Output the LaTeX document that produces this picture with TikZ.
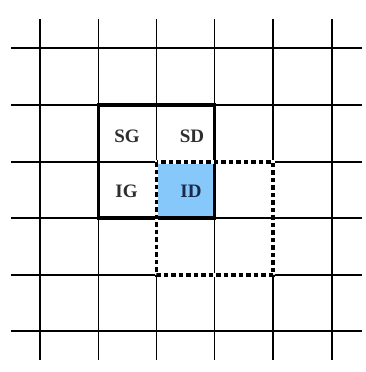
\documentclass[tikz,border=0pt]{standalone}
\usepackage{fontspec}
\setmainfont{Liberation Serif}
\definecolor{cellblue}{HTML}{86C8F9}
\definecolor{labelgray}{HTML}{2E2E2E}
\definecolor{labelnavy}{HTML}{1B2A4A}
\begin{document}
\begin{tikzpicture}[x=1pt,y=-1pt,
  gridline/.style={line width=1.9pt,black},
  thickbox/.style={line width=3.4pt,black,line join=miter},
  dashbox/.style={line width=3.4pt,black,dash pattern=on 4.5pt off 3pt},
  dashunder/.style={line width=3.4pt,white},
  lbl/.style={font=\fontsize{19}{19}\selectfont\bfseries,text=labelgray,inner sep=0pt}]
\useasboundingbox[fill=white] (0,0) rectangle (366,372);
% grid
\foreach \x in {40,98.5,156.5,214.5,273,332}
  \draw[gridline] (\x,19) -- (\x,360);
\foreach \y in {48,105,162,218,275,331}
  \draw[gridline] (11,\y) -- (362,\y);
% blue cell
\fill[cellblue] (156.5,162) rectangle (214.5,218);
\draw[gridline] (156.5,162) rectangle (214.5,218);
% thick box
\draw[thickbox] (98.5,105) rectangle (214.5,218);
% dashed box
\draw[dashunder] (156.5,162) rectangle (273,275);
\draw[dashbox] (156.5,162) rectangle (273,275);
% labels
\node[lbl] (sg) at (127,136) {SG};
\node[lbl] (sd) at (192,136) {SD};
\node[lbl] (ig) at (126.5,191.5) {IG};
\node[lbl,text=labelnavy] (id) at (191,191.5) {ID};
\end{tikzpicture}
\end{document}
